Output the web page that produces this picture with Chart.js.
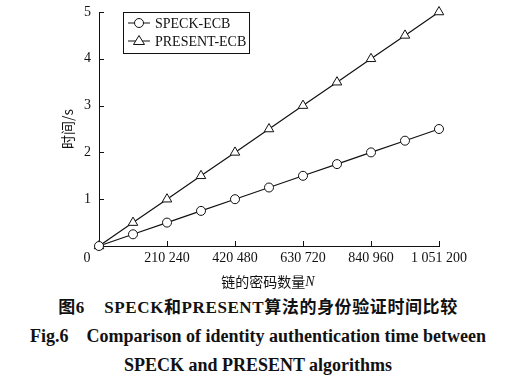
<!DOCTYPE html>
<html>
<head>
<meta charset="utf-8">
<script src="https://cdn.jsdelivr.net/npm/chart.js@4/dist/chart.umd.min.js"></script>
<style>
  html,body{margin:0;padding:0;background:#fff;}
  #wrap{width:516px;height:290px;position:relative;}
  .cap{width:516px;text-align:center;font-family:"Liberation Serif","Noto Sans CJK SC",serif;font-weight:bold;font-size:18px;line-height:29px;color:#111;white-space:nowrap;}
  #caps{padding-top:3px;}
</style>
</head>
<body>
<div id="wrap"><canvas id="c" width="516" height="290"></canvas></div>
<div id="caps">
  <div class="cap" style="font-size:17px;letter-spacing:0.6px">图6&nbsp;&nbsp;&nbsp;&nbsp;SPECK和PRESENT算法的身份验证时间比较</div>
  <div class="cap">Fig.6&nbsp;&nbsp;&nbsp;&nbsp;Comparison of identity authentication time between</div>
  <div class="cap">SPECK and PRESENT algorithms</div>
</div>
<script>
// data
const keyCounts = [0, 105120, 210240, 315360, 420480, 525600, 630720, 735840, 840960, 946080, 1051200];
const speckTimes = [0, 0.25, 0.5, 0.75, 1.0, 1.25, 1.5, 1.75, 2.0, 2.25, 2.5];
const presentTimes = [0, 0.5, 1.0, 1.5, 2.0, 2.5, 3.0, 3.5, 4.0, 4.5, 5.0];
const xTicks = [0, 210240, 420480, 630720, 840960, 1051200];
const yTicks = [0, 1, 2, 3, 4, 5];

const serif = '"Liberation Serif", "Times New Roman", serif';
const fmt = v => String(v).replace(/\B(?=(\d{3})+(?!\d))/g, ' ');

function pts(ys){ return keyCounts.map((x,i)=>({x:x, y:ys[i]})); }

const extras = {
  id:'extras',
  afterDraw(chart){
    const c = chart.ctx, a = chart.chartArea, xs = chart.scales.x, ys = chart.scales.y;
    c.save();
    c.strokeStyle = '#111'; c.lineWidth = 1;
    // inward ticks
    xTicks.forEach(v=>{ if(v===0) return; const px = Math.round(xs.getPixelForValue(v))+0.5;
      c.beginPath(); c.moveTo(px, a.bottom); c.lineTo(px, a.bottom-5); c.stroke(); });
    yTicks.forEach(v=>{ if(v===0) return; const py = Math.round(ys.getPixelForValue(v))+0.5;
      c.beginPath(); c.moveTo(a.left, py); c.lineTo(a.left+5, py); c.stroke(); });
    // origin label
    c.fillStyle = '#111';
    c.font = '14px ' + serif;
    c.textAlign = 'center'; c.textBaseline = 'middle';
    c.fillText('0', a.left-12, a.bottom+12);
    // axis titles
    const t1 = '链的密码数量';
    c.font = '14px "Noto Sans CJK SC", sans-serif';
    const w1 = c.measureText(t1).width;
    c.font = 'italic 14px ' + serif;
    const w2 = c.measureText('N').width;
    const cx = 268, cy = 282;
    c.textAlign = 'left';
    c.font = '14px "Noto Sans CJK SC", sans-serif';
    c.fillText(t1, cx-(w1+w2)/2, cy);
    c.font = 'italic 14px ' + serif;
    c.fillText('N', cx-(w1+w2)/2+w1, cy);
    c.save();
    c.translate(68, 129); c.rotate(-Math.PI/2);
    c.textAlign = 'center';
    c.font = '14px "Noto Sans CJK SC", ' + serif;
    c.fillText('时间/s', 0, 0);
    c.restore();
    // legend box
    const lx = 123.5, ly = 12.5, lw = 126, lh = 41;
    c.strokeRect(lx, ly, lw, lh);
    c.font = '14px ' + serif;
    c.textAlign = 'left';
    chart.data.datasets.forEach((ds,i)=>{
      const yy = 23 + i*18;
      c.beginPath(); c.moveTo(128, yy); c.lineTo(150, yy); c.stroke();
      c.beginPath();
      if(ds.pointStyle==='circle'){ c.arc(139, yy, 4.5, 0, Math.PI*2); }
      else { c.moveTo(139, yy-5.5); c.lineTo(144.5, yy+3.5); c.lineTo(133.5, yy+3.5); c.closePath(); }
      c.fillStyle='#fff'; c.fill(); c.stroke();
      c.fillStyle='#111';
      c.fillText(ds.label, 155, yy+1);
    });
    c.restore();
  }
};

new Chart(document.getElementById('c'), {
  type:'line',
  data:{ datasets:[
    { label:'SPECK-ECB', data:pts(speckTimes), pointStyle:'circle', pointRadius:4.5 },
    { label:'PRESENT-ECB', data:pts(presentTimes), pointStyle:'triangle', pointRadius:5.5 }
  ].map(d=>Object.assign(d,{borderColor:'#111', borderWidth:1.2, pointBorderColor:'#111',
      pointBackgroundColor:'#fff', pointBorderWidth:1, tension:0, clip:false})) },
  options:{
    responsive:false, animation:false,
    layout:{ padding:{ top:12, right:77, left:0, bottom:0 } },
    plugins:{ legend:{display:false}, tooltip:{enabled:false} },
    scales:{
      x:{ type:'linear', min:0, max:1051200,
        afterBuildTicks: s => { s.ticks = xTicks.map(v=>({value:v})); },
        afterFit: s => { s.height = 44; s.paddingLeft = 0; s.paddingRight = 0; },
        grid:{ display:false, drawTicks:false, tickLength:0 }, border:{ color:'#111', width:1 },
        ticks:{ color:'#111', font:{ family:serif, size:14 }, padding:4, maxRotation:0,
          callback: v => v===0 ? '' : fmt(v) } },
      y:{ min:0, max:5,
        afterBuildTicks: s => { s.ticks = yTicks.map(v=>({value:v})); },
        afterFit: s => { s.width = 99; s.paddingTop = 0; s.paddingBottom = 0; },
        grid:{ display:false, drawTicks:false, tickLength:0 }, border:{ color:'#111', width:1 },
        ticks:{ color:'#111', font:{ family:serif, size:14 }, padding:8,
          callback: v => v===0 ? '' : String(v) } }
    }
  },
  plugins:[extras]
});
</script>
</body>
</html>
